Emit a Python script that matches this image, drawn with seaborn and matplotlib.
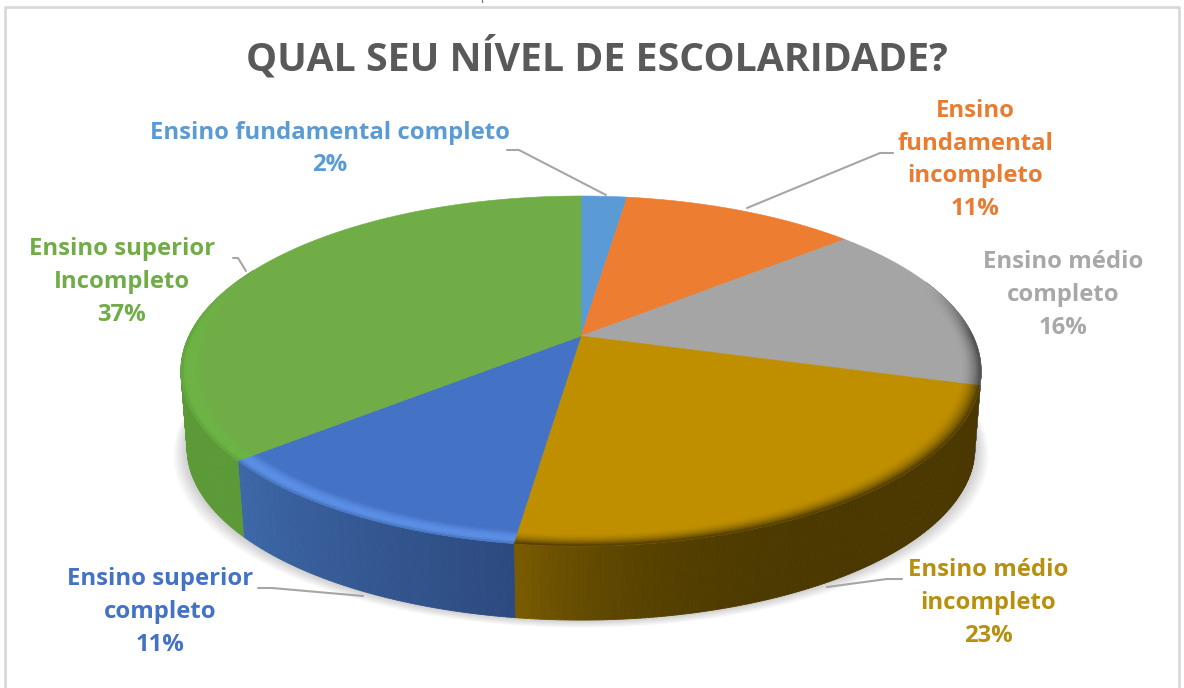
import numpy as np
import matplotlib
matplotlib.use("Agg")
import matplotlib.pyplot as plt
from matplotlib.collections import PolyCollection
from matplotlib.colors import to_rgb
import seaborn as sns

# ---- data ----
title = "QUAL SEU NÍVEL DE ESCOLARIDADE?"
categories = ["Ensino fundamental completo", "Ensino\nfundamental\nincompleto",
              "Ensino médio\ncompleto", "Ensino médio\nincompleto",
              "Ensino superior\ncompleto", "Ensino superior\nIncompleto"]
percent_labels = [2, 11, 16, 23, 11, 37]
slice_shares = [2.25, 11.5, 15.75, 22.7, 11.6, 36.2]
colors = ["#5B9BD5", "#ED7D31", "#A5A5A5", "#BF8F00", "#4472C4", "#70AD47"]
label_colors = ["#5B9BD5", "#E97C30", "#A8A8A8", "#B8900F", "#4472C4", "#70AD47"]

# ---- style ----
sns.set_theme(style="white")
plt.rcParams["font.family"] = ["Open Sans", "DejaVu Sans"]

wall_left = ["#3d3d3d", "#3d3d3d", "#5f5f5f", "#7c5d00", "#3d68a8", "#5c9a38"]
wall_right = ["#3d3d3d", "#3d3d3d", "#4a4a4a", "#4a3800", "#2d4a80", "#5c9a38"]
rim_light = [None, None, None, None, "#5c8fe6", "#6cb444"]

label_pos = [(330, 149), (975, 160), (1063, 295), (988, 603), (160, 612), (122, 282)]
leaders = [[(507, 150), (519, 150), (606, 195)],
           [(893, 153), (880, 153), (747, 208)],
           None,
           [(902, 579), (887, 579), (827, 587)],
           [(258, 588), (272, 588), (363, 596)],
           [(233, 258), (238, 258), (246, 271)]]

CX, CY, RX0, RY0, K, DEPTH = 581, 336, 392, 168, 0.2, 78


def project(r, th):
    u, v = r * np.sin(th), r * np.cos(th)
    w = 1 + K * v
    return CX + RX0 * u / w, CY - RY0 * v / w


def mix(a, b, t):
    a, b = np.array(to_rgb(a)), np.array(to_rgb(b))
    return tuple(a + (b - a) * t)


fig = plt.figure(figsize=(11.84, 6.88), dpi=100, facecolor="white")
ax = fig.add_axes([0, 0, 1, 1])
ax.set_xlim(0, 1184)
ax.set_ylim(688, 0)
ax.axis("off")

# frame
ax.plot([5, 5, 1179, 1179], [688, 7, 7, 688], color="#d9d9d9", lw=2, zorder=1)
ax.plot([482, 482], [0, 2], color="#777777", lw=1, zorder=1)

edges = np.deg2rad(np.cumsum([0] + slice_shares) * 3.6)

# soft shadow under the pie
full = np.linspace(0, 2 * np.pi, 361)
for grow in np.linspace(1, 14, 10):
    sx, sy = project(0.985, full)
    sx = CX + (sx - CX) * (1 + grow / 400)
    sy = sy + DEPTH + grow * 0.55
    ax.fill(sx, sy, color="#000000", alpha=0.018, lw=0, zorder=2)

# walls
polys, cols = [], []
for i in range(len(slice_shares)):
    a, b = edges[i], edges[i + 1]
    a2, b2 = max(a, np.deg2rad(70)), min(b, np.deg2rad(295))
    if b2 <= a2:
        continue
    grid = np.linspace(a2, b2, max(3, int(np.rad2deg(b2 - a2) * 2) + 1))
    for t0, t1 in zip(grid[:-1], grid[1:]):
        x0, y0 = project(1, t0)
        x1, y1 = project(1, t1)
        x2, y2 = project(0.985, t1)
        x3, y3 = project(0.985, t0)
        polys.append([(x0, y0), (x1, y1), (x2, y2 + DEPTH), (x3, y3 + DEPTH)])
        frac = np.clip((t0 - a) / (b - a), 0, 1)
        if i == 3:
            frac = frac ** 6
        cols.append(mix(wall_right[i], wall_left[i], frac))
ax.add_collection(PolyCollection(polys, facecolors=cols, edgecolors=cols, linewidths=0.6, zorder=3))

# top surface
for i in range(len(slice_shares)):
    th = np.linspace(edges[i], edges[i + 1], 200)
    x, y = project(1, th)
    ax.fill(np.r_[CX, x], np.r_[CY, y], color=colors[i], lw=0.4, zorder=4)

# bevelled rim
R0 = 0.95
polys, cols = [], []
rs = np.linspace(R0, 1.0, 10)
for i in range(len(slice_shares)):
    grid = np.linspace(edges[i], edges[i + 1], max(3, int(slice_shares[i] * 3.6) + 1))
    for t0, t1 in zip(grid[:-1], grid[1:]):
        tm = (t0 + t1) / 2
        s = np.clip((0.3 - np.cos(tm)) / 0.3, 0, 1)
        if s <= 0:
            continue
        for r0, r1 in zip(rs[:-1], rs[1:]):
            t = ((r0 + r1) / 2 - R0) / (1 - R0)
            if rim_light[i]:
                c = mix(colors[i], rim_light[i], s * np.sin(np.pi * min(t / 0.8, 1) * 0.6))
                if t > 0.8:
                    c = mix(c, wall_left[i], s * (t - 0.8) / 0.2 * 0.7)
            else:
                c = mix(colors[i], wall_right[i], s * t ** 2)
            x0, y0 = project(r0, t0)
            x1, y1 = project(r1, t0)
            x2, y2 = project(r1, t1)
            x3, y3 = project(r0, t1)
            polys.append([(x0, y0), (x1, y1), (x2, y2), (x3, y3)])
            cols.append(c)
ax.add_collection(PolyCollection(polys, facecolors=cols, edgecolors=cols, linewidths=0.4, zorder=5))

# leader lines
for pts in leaders:
    if pts:
        ax.plot(*zip(*pts), color="#a6a6a6", lw=1.5, zorder=6, solid_joinstyle="round")

# labels
for cat, val, col, (lx, ly) in zip(categories, percent_labels, label_colors, label_pos):
    ax.text(lx, ly, f"{cat}\n{val}%", color=col, ha="center", va="center",
            fontsize=17.2, fontweight="bold", linespacing=1.48, zorder=7)

ax.text(597, 58, title, color="#595959", ha="center", va="center",
        fontsize=28.3, fontweight="bold", zorder=7)

fig.savefig("out.png", dpi=100, facecolor="white")
